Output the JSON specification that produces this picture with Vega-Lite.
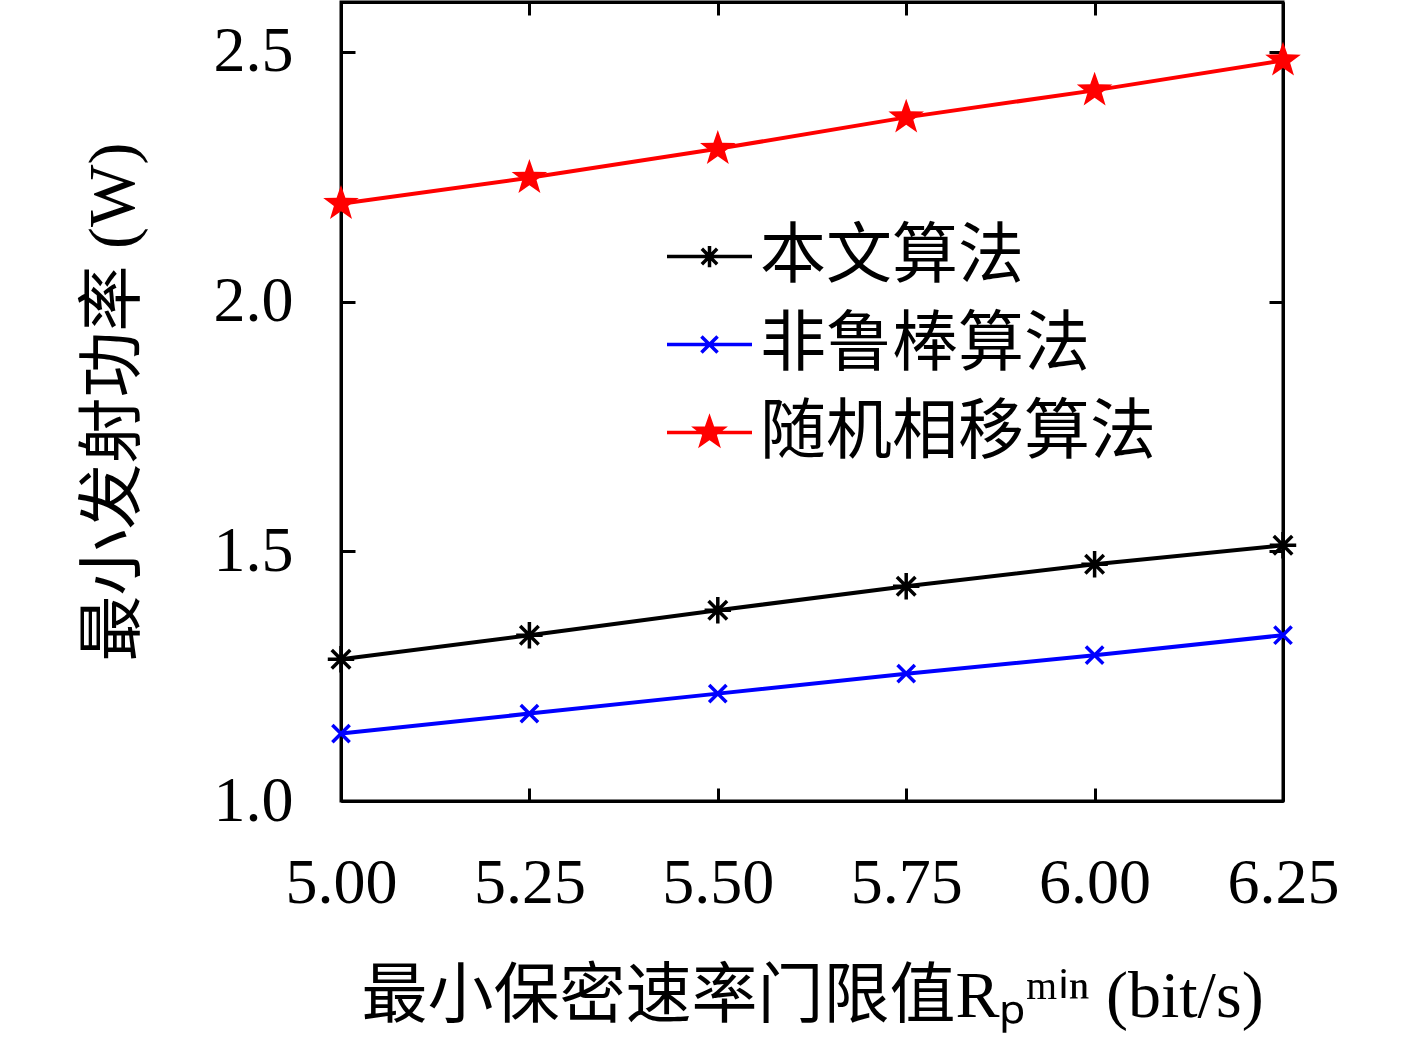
{
  "$schema": "https://vega.github.io/schema/vega-lite/v6.json",
  "autosize": "none",
  "width": 942,
  "height": 799,
  "padding": {"left": 341, "top": 2, "right": 134, "bottom": 249},
  "background": "white",
  "config": {
    "view": {"stroke": "black", "strokeWidth": 3},
    "axis": {
      "grid": false,
      "domainColor": "black",
      "domainWidth": 3,
      "tickColor": "black",
      "tickWidth": 3,
      "labelFont": "Liberation Serif",
      "labelFontSize": 64,
      "labelColor": "black",
      "labelFlush": false,
      "labelOverlap": false,
      "titleFont": "Liberation Serif, Noto Sans CJK SC",
      "titleFontSize": 66,
      "titleFontWeight": "normal",
      "titleColor": "black"
    }
  },
  "data": {
    "values": [
      {"series": "本文算法", "x": 5.00, "y": 1.284},
      {"series": "本文算法", "x": 5.25, "y": 1.332},
      {"series": "本文算法", "x": 5.50, "y": 1.382},
      {"series": "本文算法", "x": 5.75, "y": 1.430},
      {"series": "本文算法", "x": 6.00, "y": 1.474},
      {"series": "本文算法", "x": 6.25, "y": 1.512},
      {"series": "非鲁棒算法", "x": 5.00, "y": 1.135},
      {"series": "非鲁棒算法", "x": 5.25, "y": 1.175},
      {"series": "非鲁棒算法", "x": 5.50, "y": 1.215},
      {"series": "非鲁棒算法", "x": 5.75, "y": 1.255},
      {"series": "非鲁棒算法", "x": 6.00, "y": 1.292},
      {"series": "非鲁棒算法", "x": 6.25, "y": 1.332},
      {"series": "随机相移算法", "x": 5.00, "y": 2.196},
      {"series": "随机相移算法", "x": 5.25, "y": 2.248},
      {"series": "随机相移算法", "x": 5.50, "y": 2.306},
      {"series": "随机相移算法", "x": 5.75, "y": 2.369},
      {"series": "随机相移算法", "x": 6.00, "y": 2.423},
      {"series": "随机相移算法", "x": 6.25, "y": 2.483}
    ]
  },
  "layer": [
    {
      "mark": {"type": "line", "strokeWidth": 4},
      "encoding": {
        "x": {
          "field": "x", "type": "quantitative",
          "scale": {"domain": [5, 6.25], "nice": false, "zero": false},
          "axis": {
            "orient": "bottom",
            "values": [5, 5.25, 5.5, 5.75, 6, 6.25],
            "format": ".2f",
            "tickSize": -13,
            "labelPadding": 63,
            "title": "最小保密速率门限值Rₚᵐⁱⁿ (bit/s)",
            "titlePadding": 49
          }
        },
        "y": {
          "field": "y", "type": "quantitative",
          "scale": {"domain": [1.0, 2.6], "nice": false, "zero": false},
          "axis": {
            "orient": "left",
            "values": [1.0, 1.5, 2.0, 2.5],
            "format": ".1f",
            "tickSize": -14,
            "labelPadding": 62,
            "title": "最小发射功率 (W)",
            "titlePadding": 66
          }
        },
        "color": {
          "field": "series", "type": "nominal",
          "scale": {"domain": ["本文算法", "非鲁棒算法", "随机相移算法"], "range": ["#000000", "#0000ff", "#ff0000"]},
          "legend": {
            "orient": "none",
            "legendX": 324,
            "legendY": 210,
            "title": null,
            "padding": 0,
            "rowPadding": 10,
            "labelFont": "Noto Sans CJK SC",
            "labelFontSize": 66,
            "labelColor": "black",
            "labelOffset": 6,
            "labelLimit": 1000,
            "symbolSize": 7225,
            "symbolStrokeWidth": 3.5,
            "encode": {
              "symbols": {
                "update": {
                  "shape": {"signal": "datum.value == '本文算法' ? 'M-1,0L1,0M0,-0.25L0,0.25M-0.25,0L0.25,0M-0.18,-0.18L0.18,0.18M-0.18,0.18L0.18,-0.18' : datum.value == '非鲁棒算法' ? 'M-1,0L1,0M-0.19,-0.19L0.19,0.19M-0.19,0.19L0.19,-0.19' : 'M-1,0L1,0M0,-0.33L0.078,-0.107L0.314,-0.102L0.125,0.041L0.194,0.267L0,0.132L-0.194,0.267L-0.125,0.041L-0.314,-0.102L-0.078,-0.107Z'"},
                  "size": {"value": 7225},
                  "fill": {"scale": "color", "field": "value"},
                  "stroke": {"scale": "color", "field": "value"},
                  "strokeWidth": {"value": 3.5},
                  "opacity": {"value": 1}
                }
              }
            }
          }
        }
      }
    },
    {
      "transform": [{"filter": "datum.series == '本文算法'"}],
      "mark": {"type": "point", "filled": false, "opacity": 1, "strokeWidth": 3.5, "color": "#000000", "size": 700,
               "shape": "M0,-1L0,1M-1,0L1,0M-0.7,-0.7L0.7,0.7M-0.7,0.7L0.7,-0.7"},
      "encoding": {
        "x": {
          "field": "x", "type": "quantitative",
          "axis": {"orient": "top", "values": [5, 5.25, 5.5, 5.75, 6, 6.25], "labels": false, "title": null, "tickSize": -13}
        },
        "y": {
          "field": "y", "type": "quantitative",
          "axis": {"orient": "right", "values": [1.0, 1.5, 2.0, 2.5], "labels": false, "title": null, "tickSize": -14}
        }
      }
    },
    {
      "transform": [{"filter": "datum.series == '非鲁棒算法'"}],
      "mark": {"type": "point", "filled": false, "opacity": 1, "strokeWidth": 3.5, "color": "#0000ff", "size": 300,
               "shape": "M-1,-1L1,1M-1,1L1,-1"},
      "encoding": {
        "x": {"field": "x", "type": "quantitative", "axis": null},
        "y": {"field": "y", "type": "quantitative", "axis": null}
      }
    },
    {
      "transform": [{"filter": "datum.series == '随机相移算法'"}],
      "mark": {"type": "point", "filled": true, "opacity": 1, "strokeWidth": 2, "color": "#ff0000", "size": 1400,
               "shape": "M0,-1L0.235,-0.324L0.951,-0.309L0.380,0.124L0.588,0.809L0,0.4L-0.588,0.809L-0.380,0.124L-0.951,-0.309L-0.235,-0.324Z"},
      "encoding": {
        "x": {"field": "x", "type": "quantitative", "axis": null},
        "y": {"field": "y", "type": "quantitative", "axis": null}
      }
    }
  ],
  "resolve": {"axis": {"x": "independent", "y": "independent"}}
}
